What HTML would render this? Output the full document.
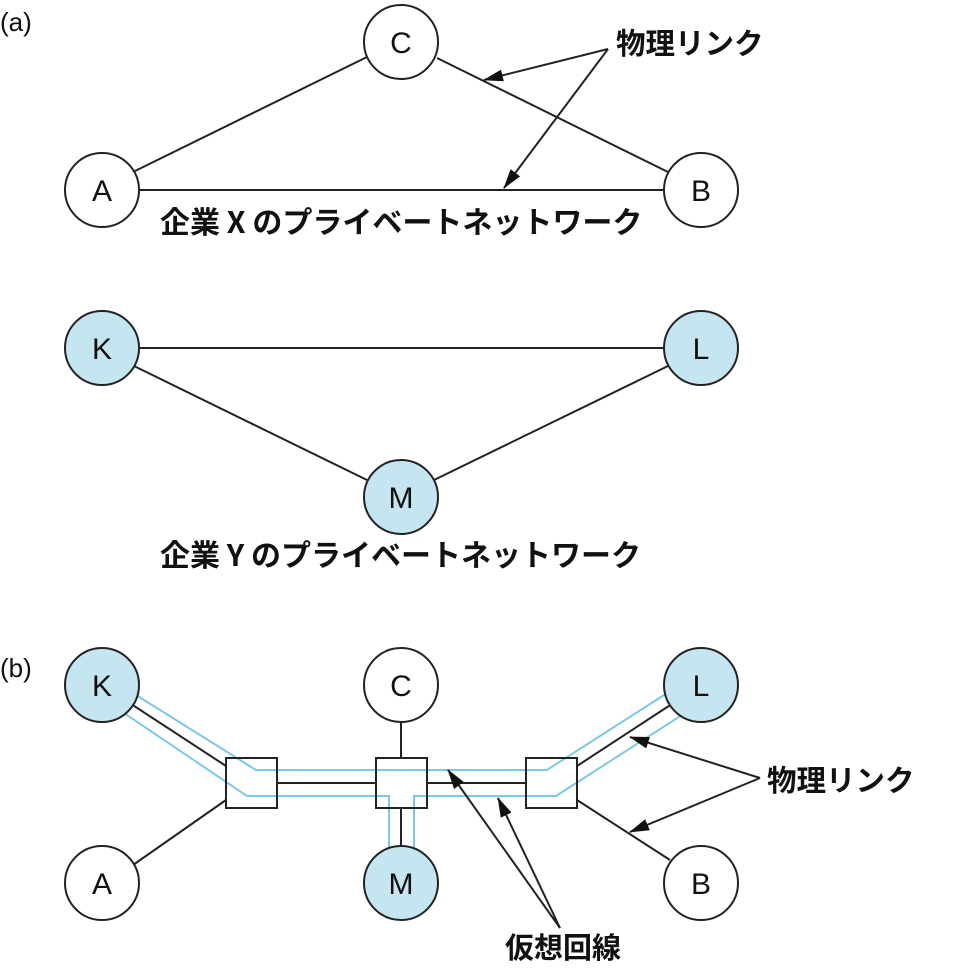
<!DOCTYPE html>
<html><head><meta charset="utf-8"><style>
body{margin:0;background:#fff}
svg{display:block}
text{font-family:"Liberation Sans","Noto Sans CJK JP",sans-serif;fill:#111}
.j{font-family:"Noto Sans CJK JP",sans-serif;font-weight:bold}
</style></head><body>
<svg width="975" height="970" viewBox="0 0 975 970" xmlns="http://www.w3.org/2000/svg">
<defs>
<marker id="a2" markerWidth="20" markerHeight="12" refX="19" refY="6" orient="auto" markerUnits="userSpaceOnUse"><path d="M0,0 L20,6 L0,12z" fill="#111"/></marker></defs>
<g stroke="#222" stroke-width="2" fill="none">
<text x="0" y="31" font-size="26" stroke="none">(a)</text>
<line x1="133" y1="172" x2="367" y2="57"/>
<line x1="437" y1="58" x2="668" y2="172"/>
<line x1="139" y1="190" x2="664" y2="190"/>
<line x1="139" y1="348" x2="664" y2="348"/>
<line x1="134" y1="366" x2="367" y2="480"/>
<line x1="434" y1="480" x2="668" y2="366"/>
<line x1="608" y1="49" x2="484" y2="80" marker-end="url(#a2)"/>
<line x1="608" y1="49" x2="504" y2="188" marker-end="url(#a2)"/>
<line x1="102" y1="685" x2="226" y2="766"/>
<line x1="133" y1="865" x2="226" y2="800"/>
<line x1="277" y1="783" x2="376" y2="783"/>
<line x1="427" y1="783" x2="526" y2="783"/>
<line x1="401" y1="722" x2="401" y2="758"/>
<line x1="401" y1="808" x2="401" y2="846"/>
<line x1="701" y1="685" x2="577" y2="766"/>
<line x1="577" y1="800" x2="670" y2="860"/>
</g>
<g stroke="#7cc8e6" stroke-width="2" fill="none">
<polyline points="128,690 256,770 547,770 675,688"/>
<polyline points="118,709 247,796 389,796 389,848"/>
<polyline points="414,848 414,796 556,796 685,713"/>
</g>
<g stroke="#222" stroke-width="2" fill="#fff">
<rect x="226" y="758" width="51" height="50" fill="none"/>
<rect x="376" y="758" width="51" height="50" fill="none"/>
<rect x="526" y="758" width="51" height="50" fill="none"/>
<circle cx="401" cy="42" r="37"/><circle cx="102" cy="190" r="37"/><circle cx="701" cy="190" r="37"/>
<circle cx="102" cy="348" r="37" fill="#c5e5f0"/><circle cx="701" cy="348" r="37" fill="#c5e5f0"/><circle cx="401" cy="497" r="37" fill="#c5e5f0"/>
<circle cx="102" cy="685" r="37" fill="#c5e5f0"/><circle cx="401" cy="685" r="37"/><circle cx="701" cy="685" r="37" fill="#c5e5f0"/>
<circle cx="102" cy="883" r="37"/><circle cx="401" cy="883" r="37" fill="#c5e5f0"/><circle cx="701" cy="883" r="37"/>
<line x1="760" y1="778" x2="630" y2="737" marker-end="url(#a2)"/>
<line x1="760" y1="778" x2="630" y2="832" marker-end="url(#a2)"/>
<line x1="560" y1="928" x2="448" y2="770" marker-end="url(#a2)"/>
<line x1="560" y1="928" x2="498" y2="798" marker-end="url(#a2)"/>
</g>
<g font-size="30" text-anchor="middle">
<text x="401" y="53">C</text><text x="102" y="201">A</text><text x="701" y="201">B</text>
<text x="102" y="359">K</text><text x="701" y="359">L</text><text x="401" y="508">M</text>
<text x="102" y="696">K</text><text x="401" y="696">C</text><text x="701" y="696">L</text>
<text x="102" y="894">A</text><text x="401" y="894">M</text><text x="701" y="894">B</text>
</g>
<text x="0" y="677" font-size="26">(b)</text>
<text class="j" x="616" y="54" font-size="29.5">物理リンク</text>
<text class="j" x="767" y="791" font-size="29.5">物理リンク</text>
<text class="j" x="505" y="958" font-size="29">仮想回線</text>
<text class="j" x="160" y="233" font-size="30">企業 X のプライベートネットワーク</text>
<text class="j" x="160" y="566" font-size="30">企業 Y のプライベートネットワーク</text>
</svg>
</body></html>
